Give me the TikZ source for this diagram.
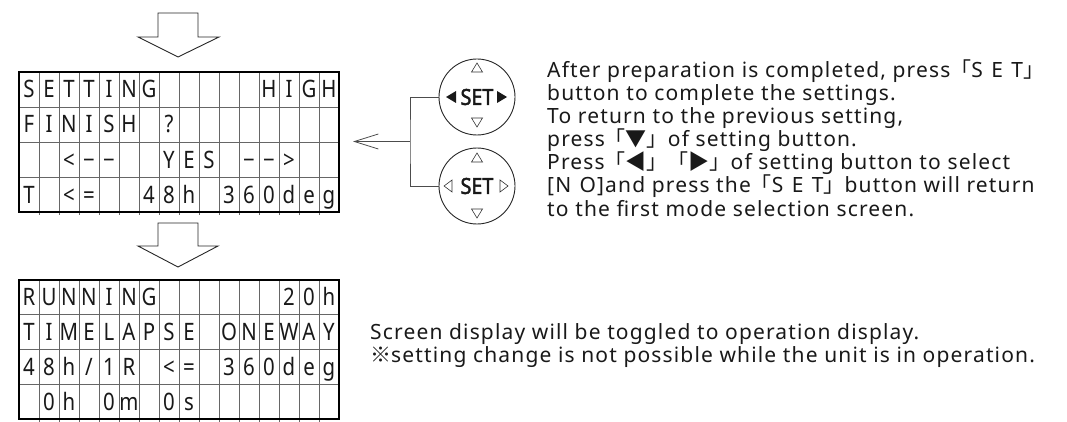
\documentclass[tikz,border=0pt]{standalone}
\usepackage{fontspec}
\usetikzlibrary{arrows.meta}
\setmainfont{Noto Sans}
\newfontfamily\txtfont{Noto Sans}[LetterSpace=5.5]
\newfontfamily\cjk{Noto Sans CJK JP}
\newfontfamily\gridfont{Noto Sans}[FakeStretch=0.85]
\newfontfamily\setfont{Noto Sans}[FakeStretch=0.9, FakeBold=2.2]
\newcommand\wide[1]{{\spaceskip=0.4em #1}}
\begin{document}
\begin{tikzpicture}[x=1pt,y=-1pt,
  innerline/.style={draw=black!60, line width=0.7pt},
  outerline/.style={draw=black, line width=1.5pt},
  leftline/.style={draw=black, line width=2.6pt},
  cell/.style={inner sep=0pt, text height=17pt, text depth=0pt, font=\fontsize{24}{24}\selectfont\gridfont, text=black!90},
  blockarrow/.style={draw=black!85, line width=0.9pt, fill=white, line join=miter},
  button/.style={circle, draw=black!85, line width=0.9pt, minimum size=76pt, inner sep=0pt, font=\fontsize{22}{22}\selectfont\setfont, text=black!90},
  link/.style={draw=black!70, line width=0.8pt},
  tri/.style={draw=black!80, line width=0.6pt, line join=miter},
  filltri/.style={fill=black!90},
  txt/.style={anchor=base west, inner sep=0pt, text height=15pt, text depth=4pt, font=\fontsize{21}{23}\selectfont\txtfont, text=black!90},
]
\useasboundingbox (0,0) rectangle (1067,422);

% block arrows
\draw[blockarrow] (158,13) -- (198,13) -- (198,37) -- (219,37) -- (178,57) -- (138,37) -- (158,37) -- cycle;
\draw[blockarrow] (158,223) -- (198,223) -- (198,246) -- (218,246) -- (178,267) -- (138,246) -- (158,246) -- cycle;

% grid 1
\foreach \i in {1,...,15} \draw[innerline] ({19+20*\i},72) -- ({19+20*\i},215);
\foreach \j in {1,2,3} \draw[innerline] (19,{72+35*\j}) -- (339,{72+35*\j});
\draw[outerline] (19,72) rectangle (339,212);
\draw[leftline] (19,71.25) -- (19,212.75);
\foreach \row [count=\r] in {{S,E,T,T,I,N,G,,,,,,H,I,G,H},{F,I,N,I,S,H,,?,,,,,,,,},{,,<,−,−,,,Y,E,S,,−,−,>,,},{T,,<,=,,,4,8,h,,3,6,0,d,e,g}}
  \foreach \c [count=\k] in \row
    \node[cell] (ga-\r-\k) at ({9+20*\k},{72+35*\r-17.5}) {\c};

% grid 2
\foreach \i in {1,...,15} \draw[innerline] ({19+20*\i},280) -- ({19+20*\i},422);
\foreach \j in {1,2,3} \draw[innerline] (19,{280+34.75*\j}) -- (339,{280+34.75*\j});
\draw[outerline] (19,280) rectangle (339,419);
\draw[leftline] (19,279.25) -- (19,419.75);
\foreach \row [count=\r] in {{R,U,N,N,I,N,G,,,,,,,2,0,h},{T,I,M,E,L,A,P,S,E,,O,N,E,W,A,Y},{4,8,h,/,1,R,,<,=,,3,6,0,d,e,g},{,0,h,,0,m,,0,s,,,,,,,}}
  \foreach \c [count=\k] in \row
    \node[cell] (gb-\r-\k) at ({9+20*\k},{280+34.75*\r-17.4}) {\c};

% buttons
\node[button] (b1) at (477,97) {SET};
\node[button] (b2) at (477,186) {SET};
% b1 up/down outline triangles
\draw[tri] ([shift={(0,-34)}]b1.center) -- ([shift={(5.5,-25)}]b1.center) -- ([shift={(-5.5,-25)}]b1.center) -- cycle;
\draw[tri] ([shift={(0,30)}]b1.center) -- ([shift={(5.5,21)}]b1.center) -- ([shift={(-5.5,21)}]b1.center) -- cycle;
% b1 left/right filled
\fill[filltri] ([shift={(-31,0)}]b1.center) -- ([shift={(-21,-6)}]b1.center) -- ([shift={(-21,6)}]b1.center) -- cycle;
\fill[filltri] ([shift={(30,0)}]b1.center) -- ([shift={(20,-6)}]b1.center) -- ([shift={(20,6)}]b1.center) -- cycle;
% b2 triangles
\draw[tri] ([shift={(0,-33)}]b2.center) -- ([shift={(5.5,-24)}]b2.center) -- ([shift={(-5.5,-24)}]b2.center) -- cycle;
\draw[tri] ([shift={(0,32)}]b2.center) -- ([shift={(5.5,23)}]b2.center) -- ([shift={(-5.5,23)}]b2.center) -- cycle;
\draw[tri] ([shift={(-33,0)}]b2.center) -- ([shift={(-25,-6)}]b2.center) -- ([shift={(-25,6)}]b2.center) -- cycle;
\draw[tri] ([shift={(31,0)}]b2.center) -- ([shift={(23,-6)}]b2.center) -- ([shift={(23,6)}]b2.center) -- cycle;

% connector
\coordinate (j) at (410,141.5);
\coordinate (tip) at (353,141.5);
\draw[link] (b1.west) -| (j) |- (b2.west);
\draw[link, -{Straight Barb[length=24pt,width=15pt]}] (j) -- (tip);

% texts
\node[txt] (t1a) at (547,78) {After preparation is completed, press{\cjk「}\wide{S E T}{\cjk」}};
\node[txt] (t1b) at (547,101) {button to complete the settings.};
\node[txt] (t1c) at (547,124) {To return to the previous setting,};
\node[txt] (t1d) at (547,147) {press{\cjk「▼」}of setting button.};
\node[txt] (t1e) at (547,170) {Press{\cjk「◀」「▶」}of setting button to select};
\node[txt] (t1f) at (547,193) {[\wide{N O}]and press the{\cjk「}\wide{S E T}{\cjk」}button will return};
\node[txt] (t1g) at (547,216) {to the first mode selection screen.};
\node[txt] (t2a) at (370,339) {Screen display will be toggled to operation display.};
\node[txt] (t2b) at (370,362) {{\cjk ※}setting change is not possible while the unit is in operation.};
\end{tikzpicture}
\end{document}
